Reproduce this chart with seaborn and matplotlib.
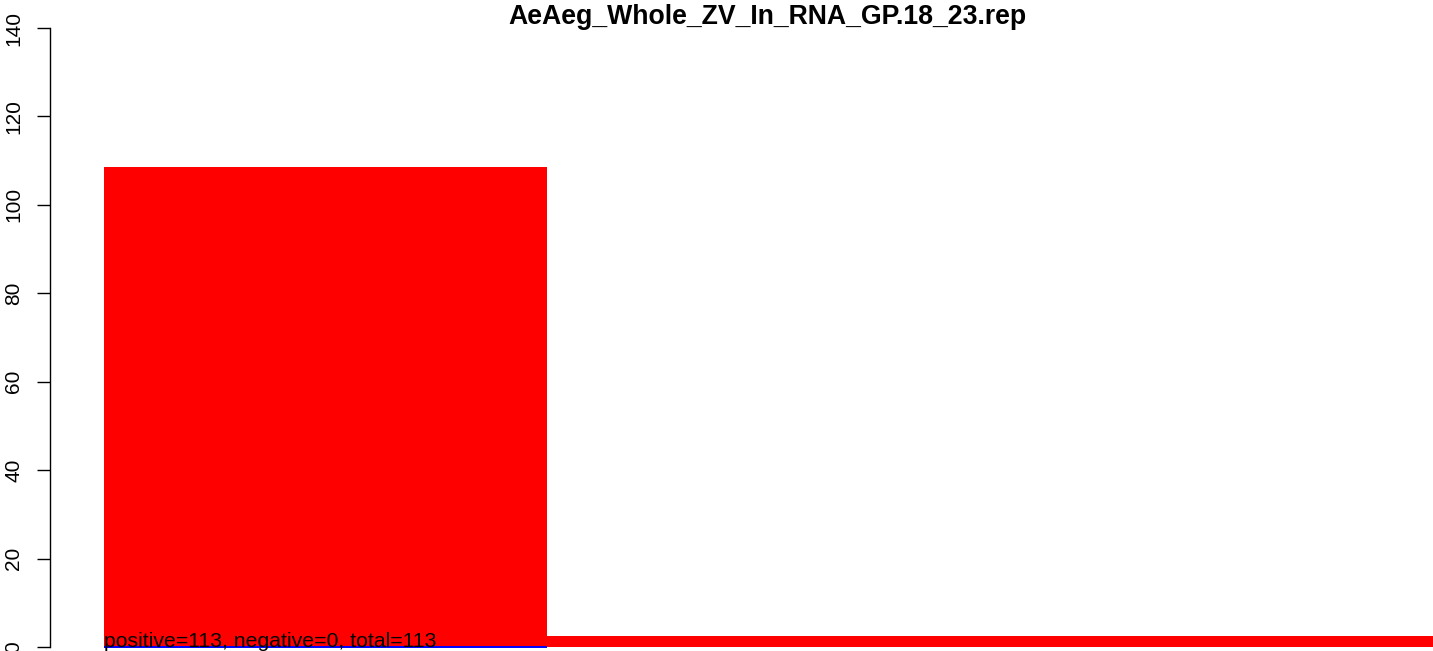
import matplotlib
matplotlib.use("Agg")
import matplotlib.pyplot as plt
import seaborn as sns
import pandas as pd
import numpy as np

# Coverage per segment on the positive and negative strand
segments = ["seg1", "seg2", "seg3"]
positive = [108.6, 2.4, 2.4]
negative = [0.0, np.nan, np.nan]
yticks = [0, 20, 40, 60, 80, 100, 120, 140]
title = "AeAeg_Whole_ZV_In_RNA_GP.18_23.rep"
summary = "positive=113, negative=0, total=113"

sns.set_style("white")
plt.rcParams["font.family"] = ["Liberation Sans", "DejaVu Sans"]
plt.rcParams["text.color"] = "black"
plt.rcParams["ytick.color"] = "black"
plt.rcParams["ytick.labelcolor"] = "black"

W, H = 1433, 651
fig = plt.figure(figsize=(W / 100, H / 100), dpi=100)

# axes: left edge at the y axis line, bottom at figure bottom
ax_left, ax_top = 50, 28
ax = fig.add_axes([ax_left / W, 0, 1 - ax_left / W, (H - ax_top) / H])

df = pd.DataFrame({"segment": segments, "positive": positive, "negative": negative})

sns.barplot(data=df, x="segment", y="positive", order=segments, color="red",
            saturation=1, width=1.0, linewidth=0, ax=ax)
sns.barplot(data=df, x="segment", y="negative", order=segments, color="blue",
            saturation=1, width=1.0, edgecolor="blue", linewidth=1.4, ax=ax)
for p in ax.patches[len(segments):]:
    p.set_zorder(5)
    p.set_capstyle("butt")
    p.set_joinstyle("miter")

px_per_unit = 443.0
x_left = -0.5 - (104 - ax_left) / px_per_unit
ax.set_xlim(x_left, -0.5 + (W - 104) / px_per_unit)
y_scale = (647 - 28) / 140.0
ax.set_ylim(-(H - 647) / y_scale, 140)

ax.set_xticks([])
ax.set_xlabel("")
ax.set_ylabel("")
ax.set_yticks(yticks)
ax.set_yticklabels([str(v) for v in yticks], rotation=90, va="center", fontsize=15)
ax.tick_params(axis="y", length=9.4, width=1, pad=10, left=True, color="black",
               labelcolor="black")

for side in ["top", "right", "bottom"]:
    ax.spines[side].set_visible(False)
ax.spines["left"].set_bounds(0, 140)
ax.spines["left"].set_color("black")
ax.spines["left"].set_linewidth(1)
ax.patch.set_alpha(0)

ax.text(-0.5, 0, summary, ha="left", va="baseline", fontsize=15.3, color="black",
        zorder=6)

fig.text(767.5 / W, 1 - 24 / H, title, ha="center", va="baseline",
         fontsize=19.2, fontweight="bold", color="black")

fig.savefig("out.png", dpi=100)
